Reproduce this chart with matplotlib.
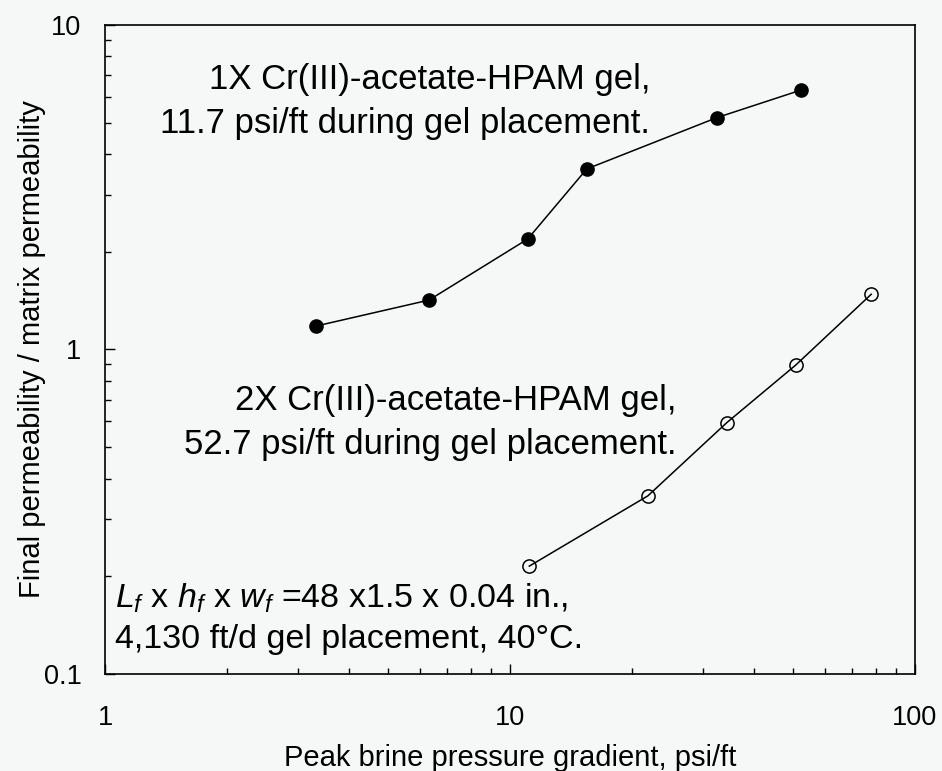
import matplotlib
matplotlib.use("Agg")
import matplotlib.pyplot as plt
from matplotlib.ticker import FixedLocator, LogLocator, NullFormatter, FuncFormatter

plt.rcParams["font.family"] = ["Liberation Sans", "DejaVu Sans"]
plt.rcParams["mathtext.fontset"] = "custom"
plt.rcParams["mathtext.rm"] = "Liberation Sans"
plt.rcParams["mathtext.it"] = "Liberation Sans:italic"

# 1X gel, 11.7 psi/ft placement (filled circles)
grad_1x = [3.31, 6.31, 11.06, 15.47, 32.4, 52.3]
perm_1x = [1.18, 1.42, 2.19, 3.60, 5.18, 6.30]

# 2X gel, 52.7 psi/ft placement (open circles)
grad_2x = [11.16, 21.9, 34.3, 50.8, 78.0]
perm_2x = [0.215, 0.354, 0.595, 0.896, 1.48]

x_ticks = [1, 10, 100]
y_ticks = [0.1, 1, 10]

bg = "#f6f8f7"
fig = plt.figure(figsize=(9.42, 7.71), dpi=100, facecolor=bg)
ax = fig.add_axes([0.1115, 0.1258, 0.8598, 0.8418], facecolor=bg)

ax.plot(grad_1x, perm_1x, "-o", color="black", lw=1.1, ms=9.5, mfc="black", mec="black")
ax.plot(grad_2x, perm_2x, "-o", color="black", lw=1.1, ms=9.5, mfc="none", mec="black", mew=1.1)

ax.set_xscale("log")
ax.set_yscale("log")
ax.set_xlim(1, 100)
ax.set_ylim(0.1, 10)

fmt = FuncFormatter(lambda v, p: f"{v:g}")
ax.xaxis.set_major_locator(FixedLocator(x_ticks))
ax.yaxis.set_major_locator(FixedLocator(y_ticks))
ax.xaxis.set_major_formatter(fmt)
ax.yaxis.set_major_formatter(fmt)
ax.xaxis.set_minor_locator(LogLocator(base=10, subs=range(2, 10)))
ax.yaxis.set_minor_locator(LogLocator(base=10, subs=range(2, 10)))
ax.xaxis.set_minor_formatter(NullFormatter())
ax.yaxis.set_minor_formatter(NullFormatter())

ax.tick_params(which="both", direction="in", top=False, right=False, width=1.0)
ax.tick_params(which="major", length=7)
ax.tick_params(which="minor", length=4.5)
ax.tick_params(axis="x", which="major", labelsize=19.5, pad=22)
ax.tick_params(axis="y", which="major", labelsize=19.5, pad=17)
for s in ax.spines.values():
    s.set_linewidth(1.2)

ax.set_xlabel("Peak brine pressure gradient, psi/ft", fontsize=21, labelpad=10)
ax.set_ylabel("Final permeability / matrix permeability", fontsize=21, labelpad=-2)

ax.text(0.673, 0.8336, "1X Cr(III)-acetate-HPAM gel,\n11.7 psi/ft during gel placement.",
        transform=ax.transAxes, ha="right", va="baseline", multialignment="right",
        fontsize=25, linespacing=1.42)
ax.text(0.706, 0.339, "2X Cr(III)-acetate-HPAM gel,\n52.7 psi/ft during gel placement.",
        transform=ax.transAxes, ha="right", va="baseline", multialignment="right",
        fontsize=25, linespacing=1.42)
ax.text(0.0123, 0.040, "$L_f$ x $h_f$ x $w_f$ =48 x1.5 x 0.04 in.,\n4,130 ft/d gel placement, 40\u00b0C.",
        transform=ax.transAxes, ha="left", va="baseline", multialignment="left",
        fontsize=24.5, linespacing=1.38)

fig.savefig("out.png", dpi=100, facecolor=bg)
